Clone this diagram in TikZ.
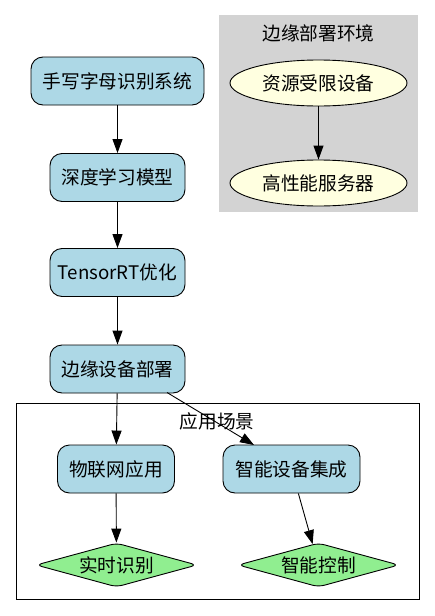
\documentclass[tikz,border=0pt]{standalone}
\usepackage{fontspec}
\setmainfont{Noto Sans CJK SC}
\usetikzlibrary{shapes.geometric,arrows.meta}
\definecolor{boxblue}{HTML}{ADD8E6}
\definecolor{ovalyellow}{HTML}{FFFFE0}
\definecolor{diagreen}{HTML}{90EE90}
\definecolor{envgray}{HTML}{D3D3D3}
\tikzset{
  stepbox/.style={draw, line width=0.9pt, fill=boxblue, rounded corners=12pt, minimum height=48pt, inner sep=0pt, font=\fontsize{18.7}{22}\selectfont},
  envoval/.style={draw, line width=0.9pt, fill=ovalyellow, ellipse, minimum width=177pt, minimum height=46pt, inner sep=0pt, font=\fontsize{18.7}{22}\selectfont},
  goal/.style={draw, line width=0.9pt, fill=diagreen, diamond, aspect=3.66, rounded corners=6pt, minimum width=161pt, minimum height=44pt, inner sep=0pt, font=\fontsize{18.7}{22}\selectfont},
  flow/.style={draw, line width=0.9pt, -{Triangle[length=14pt,width=10pt]}},
  grouplabel/.style={font=\fontsize{18.7}{22}\selectfont}
}
\begin{document}
\begin{tikzpicture}[x=1pt,y=1pt,yscale=-1]
\useasboundingbox[fill=white] (0,0) rectangle (435,616);

%Cluster: edge deployment
\fill[envgray] (219,15) rectangle (418,212);
\node[grouplabel] (envlabel) at (318.5,33) {边缘部署环境};
%Cluster: scenarios
\draw[line width=0.9pt] (16,403) rectangle (419,599);
\node[grouplabel] (applabel) at (217,421) {应用场景};

% Main chain
\node[stepbox, minimum width=173pt] (system) at (117.5,81) {手写字母识别系统};
\node[stepbox, minimum width=135pt] (model) at (117.5,177.5) {深度学习模型};
\node[stepbox, minimum width=135pt] (trt) at (117.5,272.5) {TensorRT优化};
\node[stepbox, minimum width=135pt] (deploy) at (117.5,369) {边缘设备部署};

% Scenario nodes
\node[stepbox, minimum width=117pt] (iot) at (116,469) {物联网应用};
\node[stepbox, minimum width=137pt] (smartdev) at (291.5,469) {智能设备集成};
\node[goal] (realtime) at (116.5,565) {实时识别};
\node[goal] (control) at (318.5,565) {智能控制};

% Environment nodes
\node[envoval] (limited) at (318.5,83) {资源受限设备};
\node[envoval] (server) at (318.5,183) {高性能服务器};

% Edge ends of the slanted connector
\coordinate (deployout) at (167,392.5);
\coordinate (smartin) at (254,445);

% Edges
\draw[flow] (system) -- (model);
\draw[flow] (model) -- (trt);
\draw[flow] (trt) -- (deploy);
\draw[flow] (deploy) -- (iot);
\draw[flow] (deployout) -- (smartin);
\draw[flow] (iot) -- (realtime);
\draw[flow] (smartdev) -- (control);
\draw[flow] (limited) -- (server);

\end{tikzpicture}
\end{document}
